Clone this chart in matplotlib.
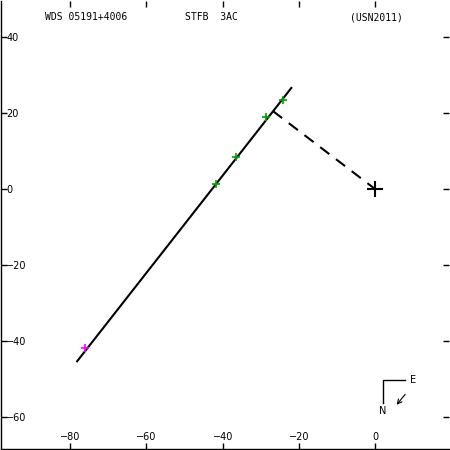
import matplotlib
matplotlib.use('Agg')
import matplotlib.pyplot as plt

# orbit line ends, and the line to the primary
orbit_x = [-78.2, -22.0]
orbit_y = [-45.3, 26.6]
node_x = [-26.8, 0.0]
node_y = [20.5, 0.0]

# observations
obs_x = [-24.1, -28.6, -36.5, -41.7]
obs_y = [23.4, 18.9, 8.4, 1.3]
first_x = [-76.1]
first_y = [-41.8]

xticks = [-80, -60, -40, -20, 0]
yticks = [-60, -40, -20, 0, 20, 40]

fig = plt.figure(figsize=(4.5, 4.5), dpi=100)
ax = fig.add_axes([0.002, 0.002, 0.996, 0.996])

ax.plot(orbit_x, orbit_y, color='black', lw=1.5)
ax.plot(node_x, node_y, color='black', lw=1.5, linestyle=(0, (5.5, 4)))
ax.plot(obs_x, obs_y, '+', color='#00a000', ms=5.5, mew=1.2)
ax.plot(first_x, first_y, '+', color='#ff00ff', ms=5.5, mew=1.2)
ax.plot([0], [0], '+', color='black', ms=12, mew=1.5)

ax.set_xlim(-98.2, 19.4)
ax.set_ylim(-68.4, 49.5)
ax.set_xticks(xticks)
ax.set_yticks(yticks)

ax.tick_params(direction='in', length=4, width=1, top=True, right=True,
               labelsize=7, colors='black')
ax.tick_params(axis='y', pad=-4)
ax.tick_params(axis='x', pad=-5)
plt.setp(ax.get_yticklabels(), ha='left')
plt.setp(ax.get_xticklabels(), va='bottom')

for sp in ax.spines.values():
    sp.set_linewidth(1)
ax.spines['top'].set_visible(False)
ax.spines['right'].set_visible(False)

mono = 'DejaVu Sans Mono'
ax.text(0.098, 0.964, 'WDS 05191+4006', transform=ax.transAxes, fontsize=7,
        family=mono, va='center', ha='left')
ax.text(0.411, 0.964, 'STFB  3AC', transform=ax.transAxes, fontsize=7,
        family=mono, va='center', ha='left')
ax.text(0.779, 0.964, '(USN2011)', transform=ax.transAxes, fontsize=7,
        family=mono, va='center', ha='left')

# compass
ax.plot([0.902, 0.853, 0.853], [0.154, 0.154, 0.103], color='black', lw=1,
        transform=ax.transAxes)
ax.text(0.919, 0.154, 'E', transform=ax.transAxes, fontsize=7,
        ha='center', va='center')
ax.text(0.851, 0.085, 'N', transform=ax.transAxes, fontsize=7,
        ha='center', va='center')
ax.annotate('', xy=(0.879, 0.094), xytext=(0.906, 0.127),
            xycoords='axes fraction',
            arrowprops=dict(arrowstyle='->', color='black', lw=0.8,
                            mutation_scale=8))

fig.savefig('out.png', dpi=100)
